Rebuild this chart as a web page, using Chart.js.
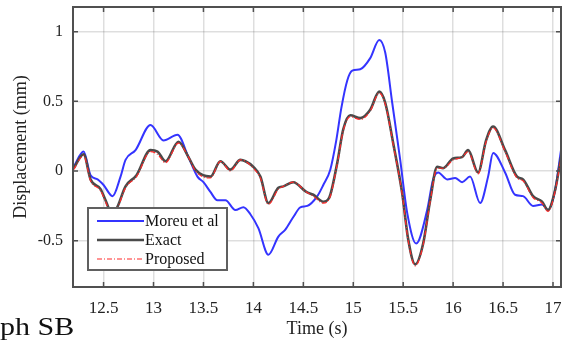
<!DOCTYPE html>
<html>
<head>
<meta charset="utf-8">
<script src="https://cdn.jsdelivr.net/npm/chart.js@4"></script>
<style>
  body { margin: 0; background: #fff; }
  #wrap { position: relative; width: 562px; height: 346px; overflow: hidden; }
  #caption { position: absolute; left: 0; top: 313px; font: 25px "Liberation Serif", serif; color: #111; transform: scaleX(1.2); transform-origin: left top; }
</style>
</head>
<body>
<div id="wrap">
  <canvas id="chart" width="562" height="346"></canvas>
  <div id="caption">ph SB</div>
</div>
<script>
// values
const exactTime = [12.20, 12.30, 12.37, 12.47, 12.52, 12.58, 12.63, 12.72, 12.83, 12.97, 13.04, 13.12, 13.25, 13.35, 13.42, 13.57, 13.67, 13.77, 13.87, 13.92, 14.00, 14.07, 14.15, 14.25, 14.30, 14.40, 14.53, 14.60, 14.70, 14.76, 14.84, 14.90, 14.97, 15.07, 15.17, 15.26, 15.32, 15.40, 15.49, 15.55, 15.62, 15.70, 15.77, 15.84, 15.90, 16.00, 16.09, 16.15, 16.25, 16.33, 16.40, 16.52, 16.64, 16.70, 16.80, 16.89, 16.95, 17.02, 17.08];
const exactDisp = [0.02, 0.12, -0.06, -0.13, -0.21, -0.30, -0.27, -0.11, -0.03, 0.15, 0.14, 0.07, 0.21, 0.10, 0.01, -0.04, 0.07, 0.01, 0.08, 0.07, 0.03, -0.04, -0.23, -0.12, -0.11, -0.08, -0.15, -0.17, -0.22, -0.19, 0.06, 0.30, 0.40, 0.38, 0.44, 0.57, 0.49, 0.20, -0.16, -0.49, -0.67, -0.52, -0.21, 0.03, 0.02, 0.09, 0.10, 0.15, -0.01, 0.22, 0.32, 0.15, -0.04, -0.06, -0.18, -0.22, -0.28, -0.14, 0.10];
const proposedDisp = [0.01, 0.11, -0.07, -0.14, -0.22, -0.31, -0.28, -0.12, -0.04, 0.14, 0.12, 0.06, 0.20, 0.10, 0.00, -0.05, 0.07, 0.00, 0.08, 0.07, 0.02, -0.05, -0.24, -0.13, -0.11, -0.08, -0.15, -0.18, -0.23, -0.20, 0.05, 0.29, 0.39, 0.37, 0.43, 0.56, 0.48, 0.19, -0.17, -0.50, -0.68, -0.53, -0.22, 0.02, 0.02, 0.08, 0.10, 0.14, -0.02, 0.21, 0.31, 0.14, -0.05, -0.07, -0.19, -0.23, -0.29, -0.15, 0.09];
const moreuTime = [12.20, 12.30, 12.37, 12.44, 12.50, 12.59, 12.67, 12.72, 12.82, 12.97, 13.10, 13.24, 13.35, 13.44, 13.50, 13.57, 13.64, 13.72, 13.82, 13.90, 13.97, 14.05, 14.15, 14.25, 14.32, 14.40, 14.47, 14.54, 14.64, 14.70, 14.77, 14.83, 14.88, 14.94, 14.99, 15.07, 15.17, 15.26, 15.32, 15.39, 15.47, 15.54, 15.63, 15.74, 15.80, 15.85, 15.94, 16.02, 16.09, 16.17, 16.27, 16.35, 16.40, 16.52, 16.62, 16.70, 16.80, 16.89, 16.95, 17.02, 17.08];
const moreuDisp = [0.03, 0.14, -0.03, -0.06, -0.10, -0.18, -0.04, 0.08, 0.15, 0.33, 0.22, 0.26, 0.10, -0.04, -0.08, -0.15, -0.21, -0.21, -0.28, -0.26, -0.31, -0.41, -0.60, -0.47, -0.42, -0.33, -0.26, -0.25, -0.18, -0.10, 0.01, 0.22, 0.45, 0.65, 0.72, 0.73, 0.81, 0.94, 0.85, 0.49, 0.08, -0.30, -0.52, -0.28, -0.06, -0.01, -0.06, -0.05, -0.08, -0.04, -0.23, -0.04, 0.13, -0.01, -0.17, -0.18, -0.25, -0.24, -0.28, -0.14, 0.15];
const seriesNames = ["Moreu et al", "Exact", "Proposed"];
const xTicks = [12.5, 13, 13.5, 14, 14.5, 15, 15.5, 16, 16.5, 17];
const yTicks = [-0.5, 0, 0.5, 1];

const pts = (t, v) => t.map((x, i) => ({ x: x, y: v[i] }));
const serif = '"Liberation Serif", "Times New Roman", serif';
const noPad = s => { s.paddingTop = 0; s.paddingBottom = 0; s.paddingLeft = 0; s.paddingRight = 0; };

// plot box, inward ticks and the inset legend
const frame = {
  id: "frame",
  afterDraw(chart) {
    const { ctx, chartArea: a, scales } = chart;
    ctx.save();
    ctx.strokeStyle = "#505050";
    ctx.lineWidth = 2;
    ctx.strokeRect(a.left, a.top, a.right - a.left, a.bottom - a.top);
    ctx.lineWidth = 1.5;
    ctx.beginPath();
    xTicks.forEach(v => {
      const px = scales.x.getPixelForValue(v);
      ctx.moveTo(px, a.bottom); ctx.lineTo(px, a.bottom - 5);
      ctx.moveTo(px, a.top); ctx.lineTo(px, a.top + 5);
    });
    yTicks.forEach(v => {
      const py = scales.y.getPixelForValue(v);
      ctx.moveTo(a.left, py); ctx.lineTo(a.left + 5, py);
      ctx.moveTo(a.right, py); ctx.lineTo(a.right - 5, py);
    });
    ctx.stroke();

    // legend
    const lx = a.left + 15, ly = 208, lw = 139, lh = 62;
    ctx.fillStyle = "#fff";
    ctx.fillRect(lx, ly, lw, lh);
    ctx.strokeStyle = "#606060";
    ctx.lineWidth = 2;
    ctx.strokeRect(lx, ly, lw, lh);
    chart.data.datasets.forEach((ds, row) => {
      const y = ly + 13 + row * 19;
      ctx.beginPath();
      ctx.strokeStyle = ds.borderColor;
      ctx.lineWidth = ds.borderWidth;
      ctx.setLineDash(ds.borderDash || []);
      ctx.moveTo(lx + 9, y);
      ctx.lineTo(lx + 56, y);
      ctx.stroke();
      ctx.setLineDash([]);
      ctx.fillStyle = "#111";
      ctx.font = "16px " + serif;
      ctx.textBaseline = "middle";
      ctx.fillText(ds.label, lx + 57, y + 1);
    });
    ctx.restore();
  }
};

new Chart(document.getElementById("chart"), {
  type: "line",
  data: {
    datasets: [
      { label: seriesNames[0], data: pts(moreuTime, moreuDisp), borderColor: "#3434ff", borderWidth: 2, order: 3 },
      { label: seriesNames[1], data: pts(exactTime, exactDisp), borderColor: "#4a4a4a", borderWidth: 2.6, order: 2 },
      { label: seriesNames[2], data: pts(exactTime, proposedDisp), borderColor: "#ff2a2a", borderWidth: 1.2, borderDash: [5, 2, 1, 2], order: 1 }
    ]
  },
  options: {
    responsive: false,
    animation: false,
    events: [],
    layout: { padding: { top: 7, right: 1, left: 0, bottom: 0 } },
    elements: {
      point: { radius: 0 },
      line: { cubicInterpolationMode: "monotone", fill: false }
    },
    plugins: { legend: { display: false }, tooltip: { enabled: false } },
    scales: {
      x: {
        type: "linear",
        min: 12.194,
        max: 17.08,
        afterBuildTicks: s => { s.ticks = xTicks.map(v => ({ value: v })); },
        afterFit: s => { s.height = 59; noPad(s); },
        grid: { color: "rgba(0,0,0,0.13)", lineWidth: 1.5, drawTicks: false },
        border: { display: false },
        ticks: { padding: 11, color: "#222", font: { family: serif, size: 17 }, callback: v => String(v) },
        title: { display: true, text: "Time (s)", color: "#222", font: { family: serif, size: 18 }, padding: { top: 0, bottom: 6 } }
      },
      y: {
        min: -0.832,
        max: 1.177,
        afterBuildTicks: s => { s.ticks = yTicks.map(v => ({ value: v })); },
        afterFit: s => { s.width = 73; noPad(s); },
        grid: { color: "rgba(0,0,0,0.13)", lineWidth: 1.5, drawTicks: false },
        border: { display: false },
        ticks: { padding: 10, color: "#222", font: { family: serif, size: 16 }, callback: v => String(v) },
        title: { display: true, text: "Displacement (mm)", color: "#222", font: { family: serif, size: 18 }, padding: { top: 10, bottom: 0 } }
      }
    }
  },
  plugins: [frame]
});
</script>
</body>
</html>
